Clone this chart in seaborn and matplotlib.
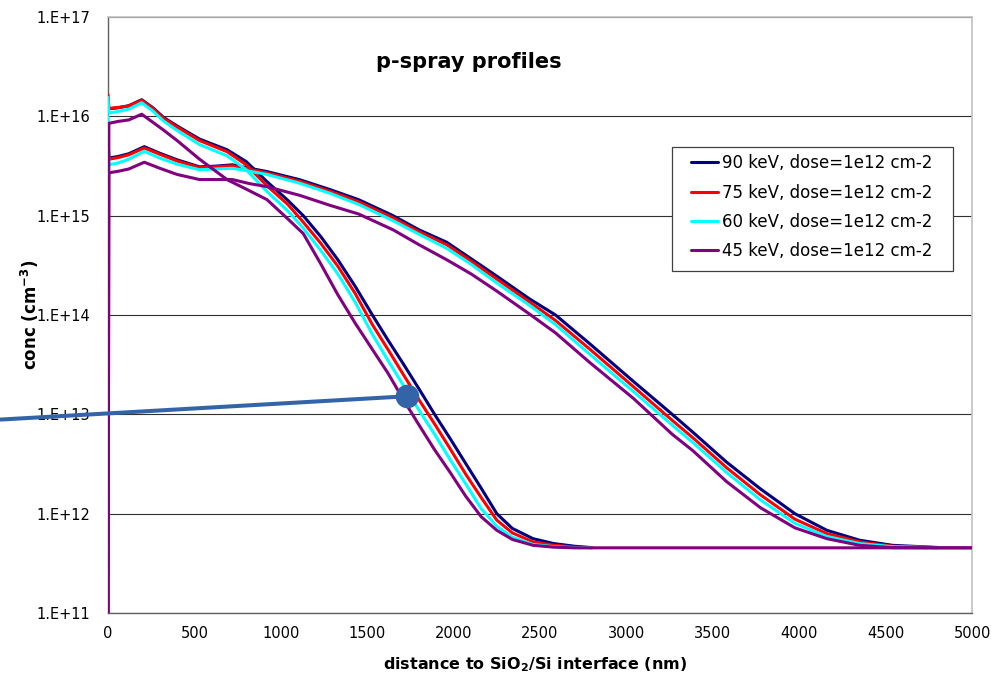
import numpy as np
import pandas as pd
import matplotlib
matplotlib.use("Agg")
import matplotlib.pyplot as plt
from matplotlib.ticker import FixedLocator, NullLocator, FuncFormatter
from matplotlib.patches import Rectangle
import seaborn as sns

nan = np.nan

# implant energies (legend entries) and their line colours
energies = ["90 keV, dose=1e12 cm-2", "75 keV, dose=1e12 cm-2",
            "60 keV, dose=1e12 cm-2", "45 keV, dose=1e12 cm-2"]
line_colors = ["#000080", "#FF0000", "#00FFFF", "#800080"]

# shallow (high peak) profiles: depth in nm, concentration in cm^-3
depth_a = [0, 5, 60, 120, 195, 260, 320, 400, 530, 690, 800, 920, 1040, 1130,
           1230, 1330, 1430, 1530, 1620, 1710, 1800, 1890, 1980, 2070, 2160,
           2250, 2340, 2460, 2580, 2700, 2800, 5000]
conc_a_90 = [1.5e16, 1.19e16, 1.22e16, 1.28e16, 1.47e16, 1.22e16, 9.8e15, 8.0e15,
             5.9e15, 4.6e15, 3.5e15, 2.2e15, 1.43e15, 1.0e15, 6.2e14, 3.6e14,
             1.95e14, 1.0e14, 5.6e13, 3.2e13, 1.8e13, 1.0e13, 5.7e12, 3.2e12,
             1.8e12, 1.0e12, 7.1e11, 5.6e11, 5.0e11, 4.7e11, 4.55e11, nan]
conc_a_75 = [1.65e16, 1.2e16, 1.23e16, 1.27e16, 1.45e16, 1.2e16, 9.6e15, 7.8e15,
             5.7e15, 4.4e15, 3.25e15, 2.0e15, 1.3e15, 8.6e14, 5.3e14, 3.1e14,
             1.65e14, 8.0e13, 4.5e13, 2.5e13, 1.4e13, 8.0e12, 4.5e12, 2.5e12,
             1.45e12, 8.6e11, 6.4e11, 5.2e11, 4.8e11, 4.6e11, 4.55e11, nan]
conc_a_60 = [1.55e16, 1.08e16, 1.12e16, 1.18e16, 1.37e16, 1.13e16, 9.0e15, 7.2e15,
             5.2e15, 4.0e15, 2.9e15, 1.75e15, 1.12e15, 7.5e14, 4.5e14, 2.6e14,
             1.35e14, 6.4e13, 3.5e13, 1.95e13, 1.1e13, 6.3e12, 3.5e12, 2.0e12,
             1.12e12, 7.5e11, 5.8e11, 4.9e11, 4.65e11, 4.55e11, 4.53e11, nan]
conc_a_45 = [1e10, 8.5e15, 8.9e15, 9.2e15, 1.05e16, 8.7e15, 7.3e15, 5.7e15,
             3.7e15, 2.3e15, 1.85e15, 1.45e15, 9.3e14, 6.6e14, 3.3e14, 1.6e14,
             8.3e13, 4.5e13, 2.6e13, 1.4e13, 7.8e12, 4.4e12, 2.6e12, 1.5e12,
             9.3e11, 6.8e11, 5.5e11, 4.8e11, 4.6e11, 4.53e11, 4.53e11, 4.53e11]

# deep (lower peak) profiles
depth_b = [0, 5, 60, 120, 210, 300, 400, 530, 620, 720, 820, 920, 1110, 1285,
           1450, 1650, 1800, 1960, 2100, 2250, 2440, 2590, 2790, 3040, 3265,
           3385, 3580, 3775, 3975, 4160, 4350, 4540, 4800, 5000]
conc_b_90 = [6e15, 3.8e15, 3.95e15, 4.2e15, 4.95e15, 4.25e15, 3.65e15, 3.1e15,
             3.15e15, 3.25e15, 3.0e15, 2.78e15, 2.3e15, 1.83e15, 1.45e15, 1.0e15,
             7.2e14, 5.4e14, 3.7e14, 2.46e14, 1.45e14, 1.0e14, 5.1e13, 2.15e13,
             1.0e13, 6.6e12, 3.3e12, 1.78e12, 1.0e12, 6.8e11, 5.4e11, 4.8e11,
             4.57e11, nan]
conc_b_75 = [6e15, 3.7e15, 3.85e15, 4.1e15, 4.8e15, 4.15e15, 3.55e15, 3.05e15,
             3.1e15, 3.18e15, 2.93e15, 2.7e15, 2.22e15, 1.76e15, 1.38e15, 9.5e14,
             6.9e14, 5.1e14, 3.5e14, 2.3e14, 1.35e14, 8.8e13, 4.5e13, 1.9e13,
             8.7e12, 5.8e12, 2.9e12, 1.55e12, 8.8e11, 6.3e11, 5.2e11, 4.7e11,
             4.55e11, nan]
conc_b_60 = [1.0e16, 3.25e15, 3.4e15, 3.7e15, 4.45e15, 3.8e15, 3.3e15, 2.9e15,
             2.95e15, 3.0e15, 2.8e15, 2.6e15, 2.12e15, 1.68e15, 1.3e15, 8.9e14,
             6.5e14, 4.7e14, 3.25e14, 2.1e14, 1.25e14, 8.0e13, 4.0e13, 1.7e13,
             7.8e12, 5.2e12, 2.6e12, 1.38e12, 8.0e11, 5.9e11, 5.0e11, 4.65e11,
             4.55e11, nan]
conc_b_45 = [1e10, 2.7e15, 2.8e15, 2.95e15, 3.45e15, 3.0e15, 2.6e15, 2.31e15,
             2.31e15, 2.31e15, 2.1e15, 1.96e15, 1.6e15, 1.27e15, 1.04e15, 7.2e14,
             5.1e14, 3.6e14, 2.6e14, 1.74e14, 1.02e14, 6.6e13, 3.3e13, 1.45e13,
             6.3e12, 4.3e12, 2.1e12, 1.15e12, 7.2e11, 5.6e11, 4.8e11, 4.55e11,
             4.53e11, 4.53e11]

# pointer line ending in a dot
pointer_depth = [-625, 1730]
pointer_conc = [8.85e12, 1.52e13]

x_ticks = [0, 500, 1000, 1500, 2000, 2500, 3000, 3500, 4000, 4500, 5000]
y_ticks = [1e11, 1e12, 1e13, 1e14, 1e15, 1e16, 1e17]

frames = []
for profile, depth, series in (("shallow", depth_a, [conc_a_90, conc_a_75, conc_a_60, conc_a_45]),
                               ("deep", depth_b, [conc_b_90, conc_b_75, conc_b_60, conc_b_45])):
    for label, conc in zip(energies, series):
        frames.append(pd.DataFrame({"depth": depth, "conc": conc,
                                    "energy": label, "profile": profile}))
df = pd.concat(frames, ignore_index=True)

sns.set_style("white")
plt.rcParams["font.family"] = ["DejaVu Sans"]
plt.rcParams["mathtext.default"] = "bf"
plt.rcParams["text.color"] = "black"

W, H = 996, 678
fig = plt.figure(figsize=(W / 100, H / 100), dpi=100)
ax = fig.add_axes([108 / W, 65 / H, 864 / W, 596 / H])
ax.set_yscale("log")

sns.lineplot(data=df, x="depth", y="conc", hue="energy", hue_order=energies,
             palette=line_colors, units="profile", estimator=None, sort=False,
             lw=2.2, ax=ax, zorder=3)

ax.set_xlim(0, 5000)
ax.set_ylim(1e11, 1e17)
ax.xaxis.set_major_locator(FixedLocator(x_ticks))
ax.yaxis.set_major_locator(FixedLocator(y_ticks))
ax.yaxis.set_minor_locator(NullLocator())
ax.yaxis.set_major_formatter(FuncFormatter(lambda v, p: f"1.E+{int(round(np.log10(v)))}"))
ax.tick_params(axis="both", which="major", direction="out", length=3.6, width=0.8,
               color="#404040", labelsize=10.5, labelcolor="black")
ax.tick_params(axis="y", pad=9)
ax.tick_params(axis="x", pad=6)
ax.set_xlabel("")
ax.set_ylabel("")
ax.grid(axis="y", which="major", color="#303030", lw=0.8)
ax.grid(axis="x", visible=False)

for side in ("left", "bottom"):
    ax.spines[side].set_color("#606060")
    ax.spines[side].set_linewidth(1.0)
for side in ("top", "right"):
    ax.spines[side].set_color("#C0C0C0")
    ax.spines[side].set_linewidth(1.2)

# pointer line and dot
ax.plot(pointer_depth, pointer_conc, color="#3464A8", lw=2.9, clip_on=False,
        zorder=6, solid_capstyle="butt")
ax.plot(pointer_depth[-1:], pointer_conc[-1:], "o", ms=16, color="#3464A8",
        clip_on=False, zorder=7)

# legend with a plain rectangular box
handles, labels = ax.get_legend_handles_labels()
if ax.get_legend() is not None:
    ax.get_legend().remove()
leg = ax.legend(handles, labels, loc="upper left", bbox_to_anchor=(0.6748, 0.7696),
                frameon=False, borderpad=0, borderaxespad=0, handlelength=1.6,
                handletextpad=0.25, labelspacing=0.68, fontsize=12)
leg.set_zorder(8)
for t in leg.get_texts():
    t.set_color("black")
for h in leg.get_lines():
    h.set_linewidth(2.2)
ax.add_patch(Rectangle((672 / W, 1 - 271 / H), 281 / W, 124 / H,
                       transform=fig.transFigure, facecolor="white",
                       edgecolor="#404040", lw=0.9, zorder=4, clip_on=False))

fig.text(469 / W, 1 - 62 / H, "p-spray profiles", ha="center", va="center",
         fontsize=15, fontweight="bold", color="black")
fig.text(30 / W, 1 - 315 / H, "conc (cm$^{-3}$)", rotation=90, ha="center",
         va="center", fontsize=12, fontweight="bold", color="black")
fig.text(535 / W, 1 - 665 / H, "distance to SiO$_2$/Si interface (nm)",
         ha="center", va="center", fontsize=11.5, fontweight="bold", color="black")

fig.savefig("out.png", dpi=100, facecolor="white")
